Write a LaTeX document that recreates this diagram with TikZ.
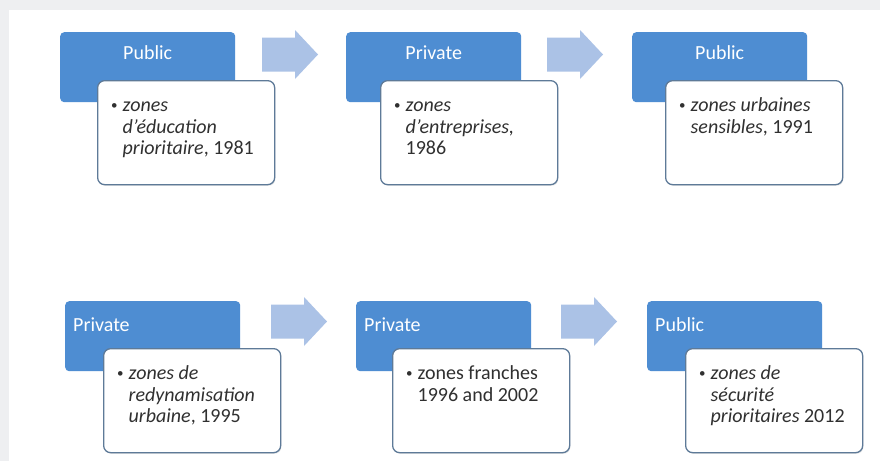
\documentclass[tikz,border=0pt]{standalone}
\usepackage{fontspec}
\setmainfont{Carlito}
\usetikzlibrary{shadows}
\definecolor{bggrey}{HTML}{EEEFF1}
\definecolor{hdrblue}{HTML}{4E8DD2}
\definecolor{arrowblue}{HTML}{ABC2E6}
\definecolor{boxborder}{HTML}{5E7A98}
\definecolor{bodytext}{HTML}{303030}
\newcommand\hdrtop[1]{\parbox[t][46pt][t]{175pt}{\centering\strut #1}}
\newcommand\hdrbot[1]{\parbox[t][40pt][t]{159pt}{\strut #1}}
\newcommand\bullist[1]{\parbox[t][72pt][t]{151pt}{\begin{tabular}{@{}l@{}l@{}}#1\end{tabular}}}
\newcommand\bl{\makebox[12pt][l]{\hspace*{0.5pt}\raisebox{2pt}{\fontsize{13}{13}\selectfont •}}}
\tikzset{
  bodyfont/.style={font=\fontsize{20}{21.5}\selectfont},
  hdrtopbox/.style={bodyfont, fill=hdrblue, rounded corners=4pt, anchor=north west,
    inner xsep=0pt, inner ysep=12pt, text=white},
  hdrbotbox/.style={bodyfont, fill=hdrblue, rounded corners=4pt, anchor=north west,
    inner xsep=8pt, inner ysep=15pt, text=white},
  itembox/.style={bodyfont, fill=white, draw=boxborder, line width=1.3pt, rounded corners=7pt,
    anchor=north west, inner xsep=13pt, inner ysep=16pt, text=bodytext,
    drop shadow={shadow xshift=0.8pt, shadow yshift=-1.2pt, opacity=0.18}},
  blockarrow/.style={fill=arrowblue, draw=none}
}
\newcommand\blockarrowat[1]{%
  \fill[blockarrow] (#1) ++(0,-17) -- ++(33,0) -- ++(0,-7.5) -- ++(23,24.5)
    -- ++(-23,24.5) -- ++(0,-7.5) -- ++(-33,0) -- cycle;}
\begin{document}
\begin{tikzpicture}[x=1pt,y=-1pt]
\fill[bggrey] (0,0) rectangle (880,461);
\fill[white] (9,10) rectangle (880,461);
\useasboundingbox (0,0) rectangle (880,461);

% top row
\node[hdrtopbox] (h1) at (60,32) {\hdrtop{Public}};
\node[hdrtopbox] (h2) at (346,32) {\hdrtop{Private}};
\node[hdrtopbox] (h3) at (632,32) {\hdrtop{Public}};
\node[itembox] (b1) at (97,80) {\bullist{\bl & \textit{zones}\\ & \textit{d'éducation}\\ & \textit{prioritaire}, 1981}};
\node[itembox] (b2) at (380,80) {\bullist{\bl & \textit{zones}\\ & \textit{d'entreprises,}\\ & 1986}};
\node[itembox] (b3) at (665,80) {\bullist{\bl & \textit{zones urbaines}\\ & \textit{sensibles}, 1991}};

\coordinate (a1) at (262,54.5);
\coordinate (a2) at (547,54.5);
\blockarrowat{a1}
\blockarrowat{a2}

% bottom row
\node[hdrbotbox] (h4) at (65,301) {\hdrbot{Private}};
\node[hdrbotbox] (h5) at (356,301) {\hdrbot{Private}};
\node[hdrbotbox] (h6) at (647,301) {\hdrbot{Public}};
\node[itembox] (b4) at (103,348) {\bullist{\bl & \textit{zones de}\\ & \textit{redynamisation}\\ & \textit{urbaine}, 1995}};
\node[itembox] (b5) at (392,348) {\bullist{\bl & zones franches\\ & 1996 and 2002}};
\node[itembox] (b6) at (685,348) {\bullist{\bl & \textit{zones de}\\ & \textit{sécurité}\\ & \textit{prioritaires} 2012}};

\coordinate (a3) at (271,321.5);
\coordinate (a4) at (561,321.5);
\blockarrowat{a3}
\blockarrowat{a4}
\end{tikzpicture}
\end{document}
